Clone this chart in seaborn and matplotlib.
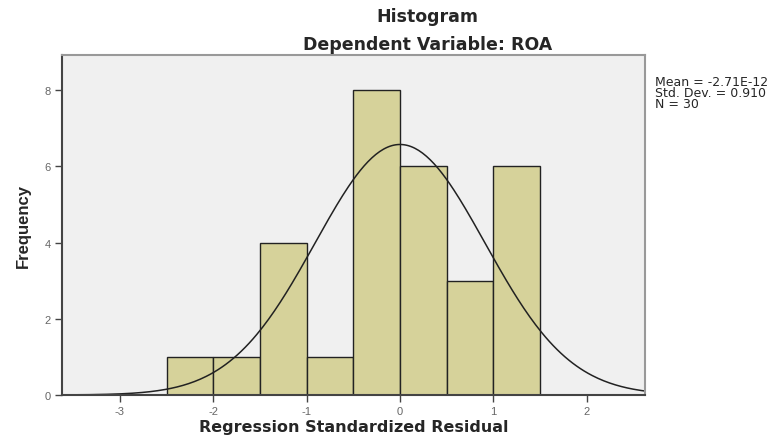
import numpy as np
import matplotlib
matplotlib.use("Agg")
import matplotlib.pyplot as plt
import seaborn as sns

# histogram bins (regression standardized residual) and frequencies
bin_edges = [-2.5, -2.0, -1.5, -1.0, -0.5, 0.0, 0.5, 1.0, 1.5]
counts = [1, 1, 4, 1, 8, 6, 3, 6]
res_mean = -2.71e-12
res_std = 0.910
n_obs = 30

x_ticks = [-3, -2, -1, 0, 1, 2]
x_ticklabels = ['-3', '-2', '-1', '0', '1', '2']
y_ticks = [0, 2, 4, 6, 8]

sns.set_style("white")
plt.rcParams['font.family'] = ['Liberation Sans', 'DejaVu Sans']

fig = plt.figure(figsize=(7.74, 4.39), dpi=100)
ax = fig.add_axes([0.080, 0.098, 0.753, 0.774])
ax.set_facecolor('#f0f0f0')

centers = [(a + b) / 2 for a, b in zip(bin_edges[:-1], bin_edges[1:])]
sns.histplot(x=centers, weights=counts, bins=bin_edges, ax=ax,
             color='#d6d29a', edgecolor='#222222', linewidth=1.0, alpha=1)

# fitted normal curve scaled to counts
xs = np.linspace(-3.62, 2.62, 300)
bw = bin_edges[1] - bin_edges[0]
ys = n_obs * bw / (res_std * np.sqrt(2 * np.pi)) * np.exp(-0.5 * ((xs - res_mean) / res_std) ** 2)
sns.lineplot(x=xs, y=ys, ax=ax, color='#222222', linewidth=1.1)

ax.set_xlim(-3.62, 2.62)
ax.set_ylim(0, 8.92)
ax.set_xticks(x_ticks)
ax.set_xticklabels(x_ticklabels)
ax.set_yticks(y_ticks)
ax.tick_params(axis='both', which='major', bottom=True, left=True, direction='out',
               length=5, width=1, color='#444444', labelsize=8, labelcolor='#666666', pad=3)

for side in ['left', 'bottom']:
    ax.spines[side].set_color('#444444')
    ax.spines[side].set_linewidth(1.5)
for side in ['top', 'right']:
    ax.spines[side].set_color('#999999')
    ax.spines[side].set_linewidth(1.5)

ax.set_xlabel('Regression Standardized Residual', fontsize=11.5, fontweight='bold', labelpad=2,
              family=['DejaVu Sans'])
ax.set_ylabel('Frequency', fontsize=12, fontweight='bold', labelpad=10,
              family=['Liberation Sans Narrow', 'Liberation Sans', 'DejaVu Sans'])

fig.text(0.552, 0.962, 'Histogram', ha='center', va='center', fontsize=12.5, fontweight='bold',
         family=['DejaVu Sans'])
fig.text(0.552, 0.898, 'Dependent Variable: ROA', ha='center', va='center', fontsize=12.5,
         fontweight='bold', family=['DejaVu Sans'])

stats_txt = f"Mean = -2.71E-12\nStd. Dev. = {res_std:.3f}\nN = {n_obs}"
fig.text(0.846, 0.826, stats_txt, ha='left', va='top', fontsize=9, linespacing=0.8,
         family=['DejaVu Sans'])

fig.savefig('out.png', dpi=100)
